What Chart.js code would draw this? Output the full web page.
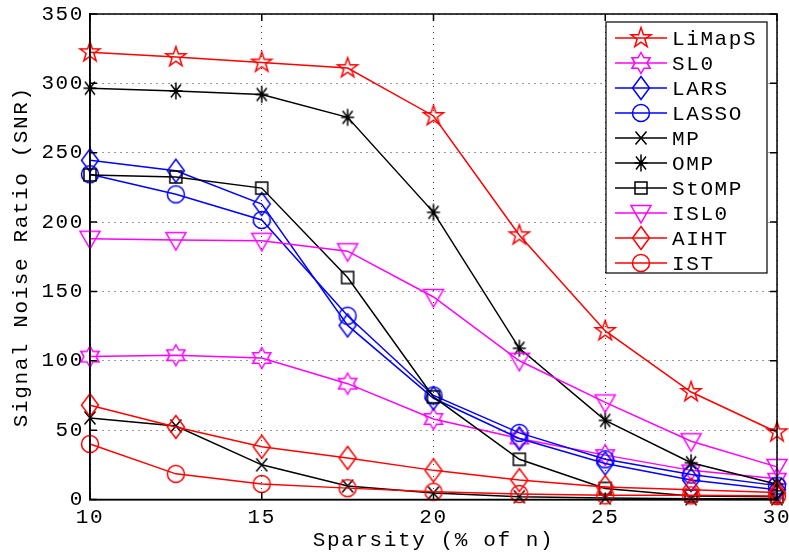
<!DOCTYPE html>
<html>
<head>
<meta charset="utf-8">
<script src="https://cdn.jsdelivr.net/npm/chart.js@4.4.0/dist/chart.umd.min.js"></script>
<style>
html, body { margin: 0; padding: 0; background: #fff; }
</style>
</head>
<body>
<canvas id="snrChart" width="789" height="554"></canvas>
<script>
// sparsity levels (% of n)
const sparsity = [10, 12.5, 15, 17.5, 20, 22.5, 25, 27.5, 30]

// SNR per method
const limaps = [322.5, 319, 315, 311, 276.5, 190.5, 121.5, 77.5, 48.5]
const sl0    = [103, 104, 102, 83.5, 58, 44, 32, 21, 15]
const lars   = [244.5, 237, 213, 125.5, 73, 44, 26, 14, 7]
const lasso  = [234.5, 220, 201.5, 132.5, 75, 48, 29, 18, 10]
const mp     = [58.8, 53, 25, 9.7, 4.7, 2, 1, 0.5, 0.5]
const omp    = [296.5, 294.5, 292, 275.5, 207, 109, 57, 26.5, 11]
const stomp  = [234, 232.5, 224.5, 160, 74, 29, 8, 2.5, 2]
const isl0   = [188, 187, 186.5, 179, 146, 100, 70, 42, 23.5]
const aiht   = [68, 52.3, 38, 30, 21, 14, 9, 7, 5]
const ist    = [40, 18.5, 11.2, 8.2, 5.6, 4, 3, 3, 2.5]

const methodNames = ["LiMapS", "SL0", "LARS", "LASSO", "MP", "OMP", "StOMP", "ISL0", "AIHT", "IST"]

const yTicks = [0, 50, 100, 150, 200, 250, 300, 350]
const xTicks = [10, 15, 20, 25, 30]

const FONT = "'Liberation Mono', 'DejaVu Sans Mono', monospace"

// hollow MATLAB-like markers drawn onto small canvases
function marker(kind, color) {
    const c = document.createElement("canvas")
    c.width = 32
    c.height = 32
    const g = c.getContext("2d")
    g.translate(16, 16)
    g.strokeStyle = color
    g.lineWidth = 1.5
    g.beginPath()
    if (kind === "pentagram") {
        for (let i = 0; i < 10; i++) {
            const r = i % 2 === 0 ? 10.5 : 4.1
            const a = -Math.PI / 2 + i * Math.PI / 5
            g.lineTo(r * Math.cos(a), r * Math.sin(a))
        }
        g.closePath()
    } else if (kind === "hexagram") {
        for (let i = 0; i < 12; i++) {
            const r = i % 2 === 0 ? 10.5 : 6.06
            const a = -Math.PI / 2 + i * Math.PI / 6
            g.lineTo(r * Math.cos(a), r * Math.sin(a))
        }
        g.closePath()
    } else if (kind === "diamond") {
        g.moveTo(0, -11.5); g.lineTo(8.5, 0); g.lineTo(0, 11.5); g.lineTo(-8.5, 0)
        g.closePath()
    } else if (kind === "circle") {
        g.arc(0, 0, 8.5, 0, Math.PI * 2)
    } else if (kind === "x") {
        g.moveTo(-5.5, -6.5); g.lineTo(5.5, 6.5)
        g.moveTo(5.5, -6.5); g.lineTo(-5.5, 6.5)
    } else if (kind === "asterisk") {
        g.moveTo(0, -8.5); g.lineTo(0, 8.5)
        g.moveTo(-6.5, 0); g.lineTo(6.5, 0)
        g.moveTo(-5, -6.5); g.lineTo(5, 6.5)
        g.moveTo(5, -6.5); g.lineTo(-5, 6.5)
    } else if (kind === "square") {
        g.rect(-6, -6, 12, 12)
    } else if (kind === "triangleDown") {
        g.moveTo(-10, -7.5); g.lineTo(10, -7.5); g.lineTo(0, 10)
        g.closePath()
    }
    g.stroke()
    return c
}

const seriesValues = [limaps, sl0, lars, lasso, mp, omp, stomp, isl0, aiht, ist]
const seriesColors = ["#ff0000", "#ff00ff", "#0000ff", "#0000ff", "#000000", "#000000", "#000000", "#ff00ff", "#ff0000", "#ff0000"]
const seriesMarkers = ["pentagram", "hexagram", "diamond", "circle", "x", "asterisk", "square", "triangleDown", "diamond", "circle"]

const datasets = methodNames.map((name, i) => ({
    label: name,
    data: sparsity.map((x, k) => ({ x: x, y: seriesValues[i][k] })),
    borderColor: seriesColors[i],
    backgroundColor: seriesColors[i],
    borderWidth: 1.5,
    tension: 0,
    pointStyle: marker(seriesMarkers[i], seriesColors[i]),
    pointRadius: 6,
    pointHoverRadius: 6,
    clip: false,
    order: methodNames.length - 1 - i
}))

// text spacing to mimic the wide Courier look of the original
const spacing = {
    id: "spacing",
    beforeDraw(chart) { chart.ctx.letterSpacing = "1.6px" }
}

// dotted grid already from the scales; draw the box and inward ticks
const boxTicks = {
    id: "boxTicks",
    afterDatasetsDraw(chart) {
        const ctx = chart.ctx
        const a = chart.chartArea
        const xs = chart.scales.x
        const ys = chart.scales.y
        ctx.save()
        ctx.strokeStyle = "#000"
        ctx.lineWidth = 1.5
        ctx.beginPath()
        xs.ticks.forEach(t => {
            const p = xs.getPixelForValue(t.value)
            ctx.moveTo(p, a.bottom); ctx.lineTo(p, a.bottom - 7)
            ctx.moveTo(p, a.top); ctx.lineTo(p, a.top + 7)
        })
        ys.ticks.forEach(t => {
            const p = ys.getPixelForValue(t.value)
            ctx.moveTo(a.left, p); ctx.lineTo(a.left + 7, p)
            ctx.moveTo(a.right, p); ctx.lineTo(a.right - 7, p)
        })
        ctx.stroke()
        ctx.strokeRect(a.left, a.top, a.right - a.left, a.bottom - a.top)
        ctx.restore()
    }
}

// boxed legend in the upper right, line sample + marker + name
const boxLegend = {
    id: "boxLegend",
    afterDraw(chart) {
        const ctx = chart.ctx
        const a = chart.chartArea
        const w = 161, rowH = 25
        const right = a.right - 10
        const left = right - w
        const top = a.top + 8
        const h = rowH * chart.data.datasets.length + 1
        ctx.save()
        ctx.fillStyle = "#fff"
        ctx.fillRect(left, top, w, h)
        ctx.strokeStyle = "#000"
        ctx.lineWidth = 1.2
        ctx.strokeRect(left, top, w, h)
        ctx.font = "21px " + FONT
        ctx.textBaseline = "middle"
        ctx.textAlign = "left"
        ctx.letterSpacing = "1.6px"
        chart.data.datasets.forEach((ds, i) => {
            const y = top + 16 + i * rowH
            ctx.strokeStyle = ds.borderColor
            ctx.lineWidth = 1.5
            ctx.beginPath()
            ctx.moveTo(left + 9, y)
            ctx.lineTo(left + 61, y)
            ctx.stroke()
            const m = ds.pointStyle
            ctx.drawImage(m, left + 35 - m.width / 2, y - m.height / 2)
            ctx.fillStyle = "#000"
            ctx.fillText(ds.label, left + 66, y + 1)
        })
        ctx.restore()
    }
}

const chartArea = document.getElementById("snrChart").getContext("2d")

Chart.defaults.font.family = FONT
Chart.defaults.font.size = 21
Chart.defaults.color = "#000"

const snrChart = new Chart(chartArea, {
    type: "line",
    data: { datasets: datasets },
    options: {
        responsive: false,
        animation: false,
        events: [],
        layout: { padding: { top: 14, right: 12, left: 0, bottom: 0 } },
        plugins: {
            legend: { display: false },
            tooltip: { enabled: false }
        },
        scales: {
            x: {
                type: "linear",
                min: 10,
                max: 30,
                afterBuildTicks: s => { s.ticks = xTicks.map(v => ({ value: v })) },
                afterFit: s => { s.height = 54.5; s.paddingLeft = 0; s.paddingRight = 0 },
                ticks: { padding: 5, maxRotation: 0 },
                grid: { color: "#333", lineWidth: 1, drawTicks: false },
                border: { display: true, color: "#000", width: 1.5, dash: [1, 5] },
                title: {
                    display: true,
                    text: "Sparsity (% of n)",
                    font: { size: 21 },
                    padding: { top: 0, bottom: 1 }
                }
            },
            y: {
                min: 0,
                max: 350,
                afterBuildTicks: s => { s.ticks = yTicks.map(v => ({ value: v })) },
                afterFit: s => { s.width = 90; s.paddingTop = 0; s.paddingBottom = 0 },
                ticks: { padding: 6 },
                grid: { color: "#333", lineWidth: 1, drawTicks: false },
                border: { display: true, color: "#000", width: 1.5, dash: [1, 5] },
                title: {
                    display: true,
                    text: "Signal Noise Ratio (SNR)",
                    font: { size: 21 },
                    padding: { top: 9, bottom: 0 }
                }
            }
        }
    },
    plugins: [spacing, boxTicks, boxLegend]
})
</script>
</body>
</html>
